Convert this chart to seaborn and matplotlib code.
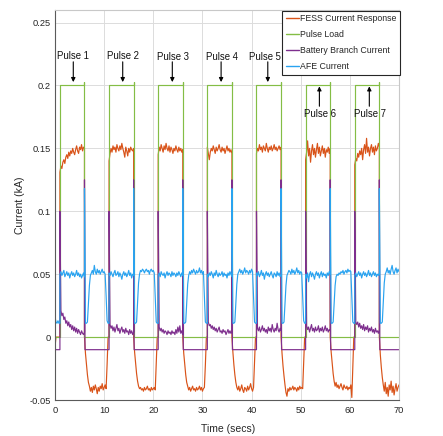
import numpy as np
import pandas as pd
import seaborn as sns
import matplotlib.pyplot as plt
from matplotlib.lines import Line2D

# ---------------- data ----------------
pulse_starts = [1, 11, 21, 31, 41, 51, 61]   # s
pulse_width = 5.0                            # s
t_end = 70.0
dt = 0.2                                     # sample spacing of the lists below
pulse_level = 0.2
pulse_overshoot = 0.203

series_names = ["FESS Current Response", "Pulse Load", "Battery Branch Current", "AFE Current"]
x_ticks = [0, 10, 20, 30, 40, 50, 60, 70]
y_ticks = [-0.05, 0, 0.05, 0.1, 0.15, 0.2, 0.25]
y_tick_labels = ["-0.05", "0", "0.05", "0.1", "0.15", "0.2", "0.25"]
pulse_labels = ["Pulse 1", "Pulse 2", "Pulse 3", "Pulse 4", "Pulse 5", "Pulse 6", "Pulse 7"]

# before the first pulse
fess_pre_t = [0.0, 0.2, 1.0]
fess_pre = [-0.008, 0.0, 0.0]
batt_pre_t = [0.0, 0.1, 1.0]
batt_pre = [0.0, -0.010, -0.010]
afe_pre_t = [0.0, 0.1, 0.2, 0.4, 0.6, 0.8, 1.0]
afe_pre = [0.019, 0.014, 0.012, 0.011, 0.013, 0.011, 0.011]

# FESS current while the pulse is on (start .. start+5 s)
fess_on = [
    [0.131, 0.136, 0.134, 0.139, 0.141, 0.138, 0.143, 0.145, 0.142, 0.147, 0.144, 0.148, 0.146,
     0.150, 0.147, 0.145, 0.149, 0.152, 0.148, 0.146, 0.151, 0.149, 0.153, 0.148, 0.151, 0.150],
    [0.140, 0.146, 0.150, 0.147, 0.152, 0.149, 0.151, 0.147, 0.153, 0.150, 0.148, 0.152, 0.149,
     0.154, 0.150, 0.147, 0.143, 0.151, 0.148, 0.144, 0.150, 0.147, 0.151, 0.149, 0.148, 0.150],
    [0.145, 0.151, 0.148, 0.153, 0.150, 0.147, 0.152, 0.149, 0.154, 0.150, 0.148, 0.152, 0.147,
     0.151, 0.149, 0.146, 0.150, 0.148, 0.152, 0.149, 0.147, 0.151, 0.148, 0.150, 0.147, 0.149],
    [0.151, 0.146, 0.141, 0.147, 0.150, 0.148, 0.152, 0.149, 0.146, 0.151, 0.148, 0.150, 0.153,
     0.149, 0.147, 0.151, 0.148, 0.150, 0.146, 0.149, 0.152, 0.148, 0.150, 0.147, 0.149, 0.146],
    [0.146, 0.150, 0.148, 0.153, 0.149, 0.151, 0.147, 0.152, 0.150, 0.148, 0.154, 0.150, 0.147,
     0.151, 0.149, 0.152, 0.148, 0.150, 0.153, 0.149, 0.151, 0.148, 0.150, 0.152, 0.149, 0.151],
    [0.141, 0.147, 0.156, 0.144, 0.150, 0.139, 0.148, 0.153, 0.145, 0.150, 0.143, 0.149, 0.154,
     0.146, 0.151, 0.144, 0.148, 0.152, 0.146, 0.150, 0.143, 0.149, 0.147, 0.151, 0.146, 0.150],
    [0.137, 0.142, 0.140, 0.146, 0.143, 0.148, 0.145, 0.150, 0.141, 0.149, 0.153, 0.146, 0.158,
     0.147, 0.151, 0.144, 0.150, 0.153, 0.147, 0.151, 0.145, 0.152, 0.148, 0.150, 0.154, 0.151],
]
# FESS current while the pulse is off (start+5 .. start+10 s)
fess_off = [
    [0.0, -0.013, -0.022, -0.030, -0.036, -0.039, -0.043, -0.040, -0.044, -0.039, -0.042, -0.038, -0.041,
     -0.045, -0.040, -0.043, -0.039, -0.041, -0.037, -0.042, -0.040, -0.038, -0.041, -0.022, 0.0, 0.0],
    [0.0, -0.012, -0.021, -0.029, -0.035, -0.039, -0.041, -0.040, -0.042, -0.041, -0.043, -0.040, -0.042,
     -0.041, -0.039, -0.042, -0.041, -0.043, -0.040, -0.042, -0.041, -0.040, -0.042, -0.021, 0.0, 0.0],
    [0.0, -0.013, -0.022, -0.030, -0.036, -0.039, -0.042, -0.040, -0.043, -0.041, -0.039, -0.042, -0.041,
     -0.043, -0.040, -0.042, -0.041, -0.039, -0.042, -0.040, -0.043, -0.041, -0.040, -0.022, 0.0, 0.0],
    [0.0, -0.012, -0.022, -0.030, -0.036, -0.040, -0.042, -0.039, -0.043, -0.041, -0.038, -0.042, -0.044,
     -0.040, -0.041, -0.043, -0.039, -0.042, -0.040, -0.037, -0.041, -0.043, -0.040, -0.021, 0.0, 0.0],
    [0.0, -0.013, -0.023, -0.031, -0.038, -0.044, -0.047, -0.041, -0.043, -0.040, -0.042, -0.041, -0.039,
     -0.042, -0.040, -0.041, -0.043, -0.040, -0.042, -0.039, -0.041, -0.040, -0.041, -0.020, 0.0, 0.0],
    [0.0, -0.012, -0.021, -0.029, -0.035, -0.039, -0.036, -0.040, -0.038, -0.041, -0.039, -0.037, -0.040,
     -0.042, -0.038, -0.040, -0.041, -0.039, -0.042, -0.040, -0.041, -0.038, -0.048, -0.024, 0.0, 0.0],
    [0.0, -0.014, -0.024, -0.032, -0.038, -0.043, -0.036, -0.045, -0.040, -0.047, -0.038, -0.042, -0.035,
     -0.044, -0.039, -0.046, -0.041, -0.037, -0.043, -0.040, -0.038],
]

# Battery branch current while the pulse is on (first value = switching spike)
batt_on = [
    [0.100, 0.021, 0.017, 0.019, 0.014, 0.016, 0.011, 0.013, 0.009, 0.012, 0.008, 0.010, 0.006,
     0.009, 0.005, 0.008, 0.004, 0.007, 0.003, 0.006, 0.004, 0.002, 0.005, 0.003, 0.002, 0.004],
    [0.100, 0.010, 0.007, 0.009, 0.005, 0.008, 0.004, 0.007, 0.010, 0.005, 0.007, 0.003, 0.006,
     0.008, 0.004, 0.006, 0.003, 0.007, 0.004, 0.005, 0.002, 0.006, 0.003, 0.005, 0.002, 0.004],
    [0.100, 0.008, 0.005, 0.007, 0.004, 0.006, 0.003, 0.005, 0.004, 0.002, 0.005, 0.003, 0.004,
     0.002, 0.005, 0.003, 0.004, 0.002, 0.006, 0.003, 0.008, 0.004, 0.009, 0.003, 0.005, 0.002],
    [0.100, 0.012, 0.009, 0.010, 0.007, 0.009, 0.006, 0.008, 0.005, 0.007, 0.004, 0.006, 0.008,
     0.004, 0.005, 0.003, 0.006, 0.004, 0.005, 0.002, 0.004, 0.006, 0.003, 0.005, 0.003, 0.004],
    [0.100, 0.007, 0.005, 0.008, 0.004, 0.006, 0.009, 0.005, 0.007, 0.004, 0.006, 0.003, 0.008,
     0.005, 0.007, 0.004, 0.010, 0.006, 0.004, 0.007, 0.005, 0.011, 0.006, 0.004, 0.007, 0.005],
    [0.100, 0.009, 0.006, 0.008, 0.004, 0.007, 0.010, 0.005, 0.007, 0.004, 0.008, 0.005, 0.006,
     0.009, 0.004, 0.007, 0.005, 0.008, 0.004, 0.006, 0.009, 0.005, 0.007, 0.004, 0.006, 0.005],
    [0.100, 0.012, 0.010, 0.012, 0.008, 0.011, 0.007, 0.009, 0.006, 0.010, 0.005, 0.008, 0.006,
     0.009, 0.004, 0.007, 0.005, 0.008, 0.004, 0.006, 0.003, 0.007, 0.004, 0.005, 0.003, 0.006],
]
# Battery branch current while the pulse is off
batt_off_t = [0.0, 0.1, 5.0]            # offsets from the pulse end
batt_off = [0.125, -0.010, -0.010]

# AFE current while the pulse is on
afe_on = [
    [0.050, 0.052, 0.049, 0.051, 0.053, 0.048, 0.050, 0.052, 0.049, 0.051, 0.047, 0.050, 0.052,
     0.049, 0.051, 0.048, 0.050, 0.053, 0.049, 0.051, 0.048, 0.050, 0.047, 0.049, 0.051, 0.048],
    [0.051, 0.049, 0.052, 0.050, 0.048, 0.051, 0.053, 0.049, 0.050, 0.052, 0.048, 0.051, 0.049,
     0.046, 0.050, 0.052, 0.049, 0.051, 0.048, 0.050, 0.053, 0.049, 0.051, 0.047, 0.050, 0.049],
    [0.049, 0.051, 0.048, 0.052, 0.050, 0.049, 0.051, 0.047, 0.050, 0.052, 0.049, 0.051, 0.050,
     0.048, 0.052, 0.049, 0.051, 0.050, 0.048, 0.051, 0.049, 0.052, 0.050, 0.048, 0.051, 0.049],
    [0.050, 0.048, 0.051, 0.049, 0.052, 0.050, 0.047, 0.051, 0.049, 0.053, 0.050, 0.048, 0.051,
     0.049, 0.050, 0.052, 0.048, 0.051, 0.049, 0.050, 0.047, 0.051, 0.049, 0.052, 0.050, 0.048],
    [0.051, 0.049, 0.052, 0.048, 0.050, 0.053, 0.049, 0.051, 0.046, 0.050, 0.052, 0.049, 0.051,
     0.048, 0.050, 0.052, 0.049, 0.047, 0.051, 0.050, 0.048, 0.052, 0.049, 0.051, 0.048, 0.050],
    [0.050, 0.047, 0.051, 0.044, 0.050, 0.052, 0.048, 0.051, 0.049, 0.046, 0.050, 0.052, 0.049,
     0.051, 0.047, 0.050, 0.052, 0.048, 0.051, 0.049, 0.050, 0.047, 0.051, 0.049, 0.052, 0.050],
    [0.049, 0.051, 0.048, 0.050, 0.052, 0.049, 0.051, 0.047, 0.050, 0.052, 0.049, 0.051, 0.048,
     0.050, 0.053, 0.049, 0.051, 0.048, 0.050, 0.052, 0.049, 0.051, 0.048, 0.050, 0.049, 0.051],
]
# AFE current while the pulse is off (first value = switching spike)
afe_off = [
    [0.118, 0.011, 0.011, 0.012, 0.026, 0.041, 0.049, 0.051, 0.053, 0.050, 0.057, 0.052, 0.050,
     0.054, 0.051, 0.053, 0.050, 0.052, 0.054, 0.051, 0.052, 0.050, 0.033, 0.013, 0.011, 0.011],
    [0.118, 0.011, 0.011, 0.012, 0.028, 0.043, 0.050, 0.053, 0.052, 0.054, 0.053, 0.051, 0.053,
     0.054, 0.052, 0.053, 0.050, 0.053, 0.054, 0.052, 0.053, 0.051, 0.031, 0.012, 0.011, 0.011],
    [0.118, 0.011, 0.011, 0.012, 0.027, 0.042, 0.049, 0.052, 0.050, 0.053, 0.051, 0.054, 0.052,
     0.050, 0.053, 0.051, 0.052, 0.055, 0.051, 0.053, 0.050, 0.052, 0.032, 0.012, 0.011, 0.011],
    [0.118, 0.011, 0.011, 0.012, 0.027, 0.042, 0.050, 0.052, 0.054, 0.051, 0.053, 0.050, 0.052,
     0.055, 0.051, 0.053, 0.052, 0.050, 0.053, 0.051, 0.054, 0.052, 0.031, 0.012, 0.011, 0.011],
    [0.118, 0.011, 0.011, 0.012, 0.026, 0.041, 0.049, 0.051, 0.053, 0.052, 0.050, 0.054, 0.051,
     0.053, 0.050, 0.052, 0.055, 0.051, 0.053, 0.050, 0.052, 0.051, 0.032, 0.013, 0.011, 0.011],
    [0.118, 0.011, 0.011, 0.012, 0.027, 0.041, 0.048, 0.050, 0.049, 0.051, 0.050, 0.052, 0.051,
     0.053, 0.050, 0.052, 0.053, 0.051, 0.054, 0.052, 0.053, 0.052, 0.032, 0.012, 0.011, 0.011],
    [0.118, 0.011, 0.011, 0.012, 0.028, 0.043, 0.050, 0.052, 0.055, 0.051, 0.053, 0.050, 0.054,
     0.057, 0.052, 0.050, 0.053, 0.055, 0.051, 0.054, 0.052],
]

# ---------------- assemble the traces ----------------
def build(pre_t, pre_v, on_lists, off_lists, off_t=None):
    ts, vs = list(pre_t), list(pre_v)
    for k, s in enumerate(pulse_starts):
        on = on_lists[k]
        ts += [s + dt * i for i in range(len(on))]
        vs += list(on)
        off = off_lists[k] if isinstance(off_lists[0], list) else off_lists
        if off_t is None:
            ts += [s + pulse_width + dt * i for i in range(len(off))]
        else:
            ts += [min(s + pulse_width + o, t_end) for o in off_t]
        vs += list(off)
    return pd.DataFrame({"t": ts, "v": vs})

fess_df = build(fess_pre_t, fess_pre, fess_on, fess_off)
batt_df = build(batt_pre_t, batt_pre, batt_on, batt_off, off_t=batt_off_t)
afe_df = build(afe_pre_t, afe_pre, afe_on, afe_off)

pt, pv = [0.0], [0.0]
for s in pulse_starts:
    pt += [s, s, s + pulse_width, s + pulse_width, s + pulse_width]
    pv += [0.0, pulse_level, pulse_level, pulse_overshoot, 0.0]
pt.append(t_end)
pv.append(0.0)
pulse_df = pd.DataFrame({"t": pt, "v": pv})

# ---------------- plot ----------------
sns.set_theme(style="white")
plt.rcParams["font.family"] = ["Liberation Sans", "DejaVu Sans"]

colors = ["#D95319", "#84BD45", "#7E2F8E", "#29A3F0"]
lw = 0.85

fig = plt.figure(figsize=(4.43, 4.36), dpi=100)
ax = fig.add_axes([55 / 443, 1 - 400 / 436, 344 / 443, 390 / 436])

for df, c in zip([fess_df, pulse_df, batt_df, afe_df], colors):
    sns.lineplot(data=df, x="t", y="v", ax=ax, color=c, lw=lw,
                 estimator=None, sort=False, legend=False)

ax.set_xlim(0, t_end)
ax.set_ylim(-0.05, 0.26)
ax.set_xticks(x_ticks)
ax.set_yticks(y_ticks)
ax.set_yticklabels(y_tick_labels)
ax.grid(True, color="#dcdcdc", lw=0.7)
ax.set_axisbelow(True)
for side in ["left", "bottom"]:
    ax.spines[side].set_color("#5a5a5a")
    ax.spines[side].set_linewidth(0.8)
for side in ["top", "right"]:
    ax.spines[side].set_color("#c8c8c8")
    ax.spines[side].set_linewidth(0.8)
ax.tick_params(axis="both", direction="in", length=2.5, width=0.6, color="#5a5a5a",
               labelsize=6.7, labelcolor="#262626")
ax.tick_params(axis="x", pad=4)
ax.tick_params(axis="y", pad=3)

ax.set_xlabel("Time (secs)", fontsize=7.5, color="#262626")
ax.set_ylabel("Current (kA)", fontsize=7.6, color="#262626")
ax.xaxis.set_label_coords(0.502, -0.062)
ax.yaxis.set_label_coords(-0.087, 0.50)

# pulse annotations
arrow_x = [3.72, 13.78, 23.87, 33.8, 43.3, 53.8, 63.96]
text_x = [3.72, 13.78, 23.95, 33.95, 42.8, 53.9, 64.0]
for i, lab in enumerate(pulse_labels):
    if i < 5:
        ty = 0.2237 if i < 2 else 0.2225
        tail, head = 0.2188, 0.2027
    else:
        ty = 0.177
        tail, head = 0.1835, 0.1993
    ax.text(text_x[i], ty, lab, ha="center", va="center", fontsize=6.9, color="#111111")
    ax.annotate("", xy=(arrow_x[i], head), xytext=(arrow_x[i], tail),
                arrowprops=dict(arrowstyle="-|>", color="black", lw=0.8,
                                mutation_scale=6, shrinkA=0, shrinkB=0))

handles = [Line2D([0], [0], color=c, lw=1.0) for c in colors]
leg = ax.legend(handles, series_names, loc="upper right", bbox_to_anchor=(1.002, 0.998),
                borderaxespad=0, fontsize=6.3, frameon=True, fancybox=False,
                handlelength=1.45, handletextpad=0.12, labelspacing=0.78, borderpad=0.42)
leg.get_frame().set_edgecolor("#262626")
leg.get_frame().set_linewidth(0.8)
leg.get_frame().set_facecolor("white")
leg.get_frame().set_alpha(1)
leg.set_zorder(10)

fig.savefig("out.png", dpi=100)
